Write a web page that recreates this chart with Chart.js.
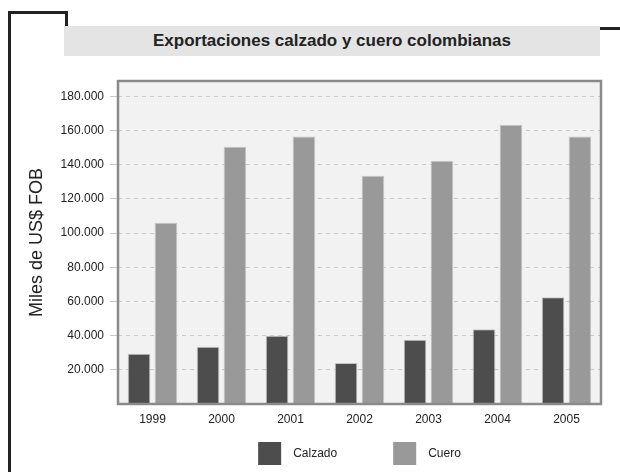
<!DOCTYPE html>
<html>
<head>
<meta charset="utf-8">
<script src="https://cdn.jsdelivr.net/npm/chart.js@4"></script>
<style>
  html, body { margin: 0; padding: 0; background: #fff; }
  #wrap { position: relative; width: 620px; height: 472px; overflow: hidden; font-family: "Liberation Sans", Arial, sans-serif; }
  #chart { position: absolute; left: 0; top: 0; }
  .ln { position: absolute; background: #222; }
  #title {
    position: absolute; left: 64px; top: 26px; width: 536px; height: 30px;
    background: #e4e4e4; color: #222; font-weight: bold; font-size: 17px;
    line-height: 30px; text-align: center;
  }
</style>
</head>
<body>
<div id="wrap">
  <canvas id="chart" width="620" height="472"></canvas>
  <div class="ln" style="left:8px;top:11px;width:3px;height:461px"></div>
  <div class="ln" style="left:8px;top:11px;width:60px;height:3px"></div>
  <div class="ln" style="left:65px;top:11px;width:3px;height:16px"></div>
  <div class="ln" style="left:600px;top:27px;width:20px;height:3px"></div>
  <div id="title">Exportaciones calzado y cuero colombianas</div>
</div>
<script>
var years = ["1999", "2000", "2001", "2002", "2003", "2004", "2005"];
var calzado = [29400, 33500, 40000, 24000, 37600, 43700, 62400];
var cuero = [106000, 150500, 156500, 133500, 142400, 163400, 156500];
var series_names = ["Calzado", "Cuero"];
var series_colors = ["#4d4d4d", "#999999"];
var y_ticks = [20000, 40000, 60000, 80000, 100000, 120000, 140000, 160000, 180000];

var fmt_miles = (v) => String(v).replace(/\B(?=(\d{3})+(?!\d))/g, ".");

// fondo y marco del area de graficos
var area_plugin = {
    id: "area_plugin",
    beforeDraw: (chart) => {
        var a = chart.chartArea;
        var ctx = chart.ctx;
        ctx.save();
        ctx.fillStyle = "#f2f2f2";
        ctx.fillRect(a.left, a.top, a.right - a.left, a.bottom - a.top);
        ctx.restore();
    },
    afterDraw: (chart) => {
        var a = chart.chartArea;
        var ctx = chart.ctx;
        ctx.save();
        ctx.strokeStyle = "#8a8a8a";
        ctx.lineWidth = 2.5;
        ctx.strokeRect(a.left, a.top, a.right - a.left, a.bottom - a.top);
        ctx.restore();
    }
};

// leyenda dibujada a mano debajo del eje x
var legend_plugin = {
    id: "legend_plugin",
    afterDraw: (chart) => {
        var ctx = chart.ctx;
        var a = chart.chartArea;
        var box = 23, gap = 12, spacing = 56;
        ctx.save();
        ctx.font = "12px 'Liberation Sans', Arial, sans-serif";
        var items = chart.data.datasets.map((d) => ({ text: d.label, color: d.backgroundColor }));
        var total = 0;
        items.forEach((it, i) => {
            it.w = box + gap + ctx.measureText(it.text).width;
            total += it.w + (i > 0 ? spacing : 0);
        });
        var x = (a.left + a.right) / 2 - total / 2;
        var cy = 453.5;
        items.forEach((it) => {
            ctx.fillStyle = it.color;
            ctx.fillRect(x, cy - box / 2, box, box);
            ctx.fillStyle = "#222";
            ctx.textBaseline = "middle";
            ctx.fillText(it.text, x + box + gap, cy);
            x += it.w + spacing;
        });
        ctx.restore();
    }
};

var chart_data = {
    labels: [...years],
    datasets: [calzado, cuero].map((vals, i) => ({
        label: series_names[i],
        data: [...vals],
        backgroundColor: series_colors[i],
        borderColor: "#c4c4c4",
        borderWidth: 1,
        barPercentage: 0.84,
        categoryPercentage: 0.78
    }))
};

var options = {
    responsive: false,
    animation: false,
    layout: { padding: { left: 26, top: 81, right: 19, bottom: 38 } },
    plugins: {
        legend: { display: false },
        tooltip: { enabled: false }
    },
    scales: {
        x: {
            grid: { display: false, drawTicks: false },
            border: { display: false },
            ticks: { color: "#222", font: { size: 12, family: "'Liberation Sans', Arial" }, padding: 8 },
            afterFit: (scale) => { scale.height = 30; }
        },
        y: {
            min: 0,
            max: 189000,
            border: { display: false, dash: [4, 4] },
            grid: {
                color: "#c8c8c8",
                lineWidth: 1,
                tickLength: 8,
                tickColor: "#c8c8c8"
            },
            afterBuildTicks: (scale) => {
                scale.ticks = y_ticks.map((v) => ({ value: v }));
            },
            ticks: {
                padding: 6,
                color: "#222",
                font: { size: 12, family: "'Liberation Sans', Arial" },
                callback: (v) => fmt_miles(v)
            },
            title: {
                display: true,
                text: "Miles de US$ FOB",
                color: "#222",
                padding: 0,
                font: { size: 18, family: "'Liberation Sans', Arial" }
            },
            afterFit: (scale) => { scale.width = 92; }
        }
    }
};

var canva = document.getElementById("chart");
var chart = new Chart(canva, {
    type: "bar",
    data: chart_data,
    options: options,
    plugins: [area_plugin, legend_plugin]
});
</script>
</body>
</html>
